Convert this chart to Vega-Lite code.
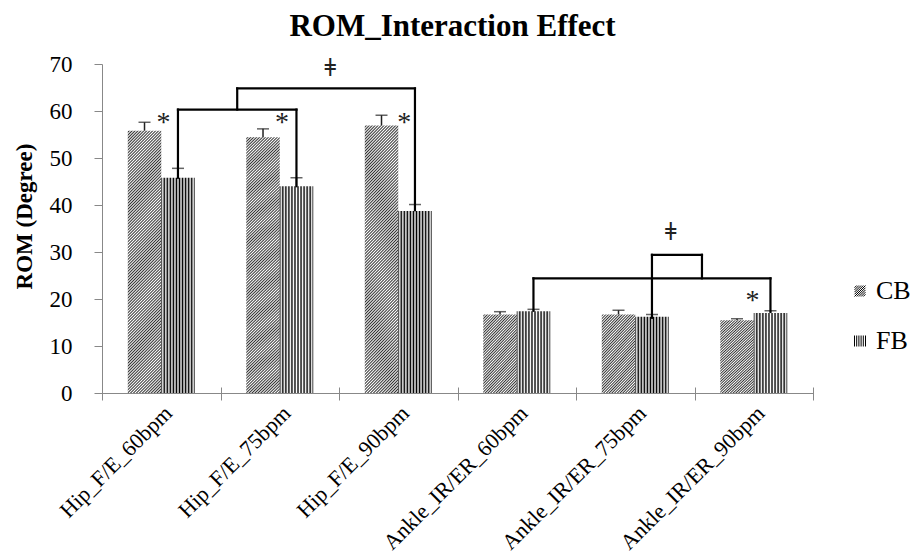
{
  "$schema": "https://vega.github.io/schema/vega-lite/v6.json",
  "width": 711,
  "height": 329,
  "autosize": "none",
  "padding": {"left": 102, "top": 64, "right": 98, "bottom": 165},
  "background": "white",
  "config": {"view": {"stroke": null}},
  "title": {"text": "ROM_Interaction Effect", "font": "Liberation Serif", "fontSize": 31, "fontWeight": "bold", "color": "black", "anchor": "middle", "offset": 10, "dx": -5},
  "datasets": {
    "rom": [
      {"category": "Hip_F/E_60bpm", "series": "CB", "mean": 55.8, "upper": 57.6},
      {"category": "Hip_F/E_60bpm", "series": "FB", "mean": 45.8, "upper": 47.8},
      {"category": "Hip_F/E_75bpm", "series": "CB", "mean": 54.4, "upper": 56.2},
      {"category": "Hip_F/E_75bpm", "series": "FB", "mean": 44.0, "upper": 45.8},
      {"category": "Hip_F/E_90bpm", "series": "CB", "mean": 56.9, "upper": 59.1},
      {"category": "Hip_F/E_90bpm", "series": "FB", "mean": 38.7, "upper": 40.1},
      {"category": "Ankle_IR/ER_60bpm", "series": "CB", "mean": 16.7, "upper": 17.3},
      {"category": "Ankle_IR/ER_60bpm", "series": "FB", "mean": 17.4, "upper": 17.8},
      {"category": "Ankle_IR/ER_75bpm", "series": "CB", "mean": 16.7, "upper": 17.6},
      {"category": "Ankle_IR/ER_75bpm", "series": "FB", "mean": 16.2, "upper": 16.7},
      {"category": "Ankle_IR/ER_90bpm", "series": "CB", "mean": 15.5, "upper": 15.8},
      {"category": "Ankle_IR/ER_90bpm", "series": "FB", "mean": 17.0, "upper": 17.5}
    ],
    "brackets": [
      {"x_at": 0.641, "x_to": 0.641, "y_at": 45.8, "y_to": 60.3},
      {"x_at": 0.641, "x_to": 1.641, "y_at": 60.3, "y_to": 60.3},
      {"x_at": 1.641, "x_to": 1.641, "y_at": 44.0, "y_to": 60.3},
      {"x_at": 1.141, "x_to": 1.141, "y_at": 60.3, "y_to": 64.8},
      {"x_at": 1.141, "x_to": 2.641, "y_at": 64.8, "y_to": 64.8},
      {"x_at": 2.641, "x_to": 2.641, "y_at": 38.9, "y_to": 64.8},
      {"x_at": 3.641, "x_to": 3.641, "y_at": 17.5, "y_to": 24.4},
      {"x_at": 3.641, "x_to": 5.641, "y_at": 24.4, "y_to": 24.4},
      {"x_at": 5.641, "x_to": 5.641, "y_at": 17.3, "y_to": 24.4},
      {"x_at": 4.641, "x_to": 4.641, "y_at": 16.0, "y_to": 29.4},
      {"x_at": 4.641, "x_to": 5.063, "y_at": 29.4, "y_to": 29.4},
      {"x_at": 5.063, "x_to": 5.063, "y_at": 24.4, "y_to": 29.4}
    ],
    "stars": [
      {"label": "*", "x_at": 0.52, "y_at": 55.7},
      {"label": "*", "x_at": 1.52, "y_at": 55.7},
      {"label": "*", "x_at": 2.55, "y_at": 55.7},
      {"label": "*", "x_at": 5.49, "y_at": 17.9}
    ],
    "interaction": [
      {"label": "ǂ", "x_at": 1.927, "y_at": 66.4},
      {"label": "ǂ", "x_at": 4.8, "y_at": 31.5}
    ]
  },
  "layer": [
    {
      "data": {"name": "rom"},
      "encoding": {
        "x": {
          "field": "category", "type": "nominal", "sort": null,
          "scale": {"paddingInner": 0.435, "paddingOuter": 0.2175},
          "axis": {"title": null, "labelAngle": -45, "labelFont": "Liberation Serif", "labelFontSize": 22, "labelColor": "black", "labelPadding": 9, "labelLimit": 400, "ticks": false, "tickSize": 0, "domainColor": "#888", "grid": false}
        },
        "xOffset": {"field": "series", "type": "nominal", "scale": {"paddingInner": 0, "paddingOuter": 0}},
        "y": {
          "field": "mean", "type": "quantitative",
          "scale": {"domain": [0, 70], "nice": false},
          "axis": {"values": [0, 10, 20, 30, 40, 50, 60, 70], "title": "ROM (Degree)", "titleFont": "Liberation Serif", "titleFontSize": 23, "titleFontWeight": "bold", "titleColor": "black", "titleX": -66, "titleY": 152, "labelFont": "Liberation Serif", "labelFontSize": 23, "labelColor": "black", "labelPadding": 22, "tickSize": 8, "tickColor": "#888", "domainColor": "#888", "grid": false}
        }
      },
      "layer": [
        {
          "mark": {"type": "bar", "stroke": null},
          "encoding": {
            "fill": {
              "condition": [
                {"test": "datum.series === 'FB'", "value": {"gradient": "linear", "x1": 0, "y1": 0, "x2": 1, "y2": 0, "stops": [
                  {"offset": 0, "color": "#000"}, {"offset": 0.04545, "color": "#fff"}, {"offset": 0.09091, "color": "#000"}, {"offset": 0.13636, "color": "#fff"},
                  {"offset": 0.18182, "color": "#000"}, {"offset": 0.22727, "color": "#fff"}, {"offset": 0.27273, "color": "#000"}, {"offset": 0.31818, "color": "#fff"},
                  {"offset": 0.36364, "color": "#000"}, {"offset": 0.40909, "color": "#fff"}, {"offset": 0.45455, "color": "#000"}, {"offset": 0.5, "color": "#fff"},
                  {"offset": 0.54545, "color": "#000"}, {"offset": 0.59091, "color": "#fff"}, {"offset": 0.63636, "color": "#000"}, {"offset": 0.68182, "color": "#fff"},
                  {"offset": 0.72727, "color": "#000"}, {"offset": 0.77273, "color": "#fff"}, {"offset": 0.81818, "color": "#000"}, {"offset": 0.86364, "color": "#fff"},
                  {"offset": 0.90909, "color": "#000"}, {"offset": 0.95455, "color": "#fff"}, {"offset": 1, "color": "#000"}
                ]}},
                {"test": "indexof(datum.category, 'Hip') === 0", "value": {"gradient": "linear", "x1": 0, "y1": 0, "x2": 0.1428, "y2": 1.111, "stops": [
                  {"offset": 0, "color": "#fff"}, {"offset": 0.005, "color": "#333"}, {"offset": 0.01, "color": "#fff"}, {"offset": 0.015, "color": "#333"},
                  {"offset": 0.02, "color": "#fff"}, {"offset": 0.025, "color": "#333"}, {"offset": 0.03, "color": "#fff"}, {"offset": 0.035, "color": "#333"},
                  {"offset": 0.04, "color": "#fff"}, {"offset": 0.045, "color": "#333"}, {"offset": 0.05, "color": "#fff"}, {"offset": 0.055, "color": "#333"},
                  {"offset": 0.06, "color": "#fff"}, {"offset": 0.065, "color": "#333"}, {"offset": 0.07, "color": "#fff"}, {"offset": 0.075, "color": "#333"},
                  {"offset": 0.08, "color": "#fff"}, {"offset": 0.085, "color": "#333"}, {"offset": 0.09, "color": "#fff"}, {"offset": 0.095, "color": "#333"},
                  {"offset": 0.1, "color": "#fff"}, {"offset": 0.105, "color": "#333"}, {"offset": 0.11, "color": "#fff"}, {"offset": 0.115, "color": "#333"},
                  {"offset": 0.12, "color": "#fff"}, {"offset": 0.125, "color": "#333"}, {"offset": 0.13, "color": "#fff"}, {"offset": 0.135, "color": "#333"},
                  {"offset": 0.14, "color": "#fff"}, {"offset": 0.145, "color": "#333"}, {"offset": 0.15, "color": "#fff"}, {"offset": 0.155, "color": "#333"},
                  {"offset": 0.16, "color": "#fff"}, {"offset": 0.165, "color": "#333"}, {"offset": 0.17, "color": "#fff"}, {"offset": 0.175, "color": "#333"},
                  {"offset": 0.18, "color": "#fff"}, {"offset": 0.185, "color": "#333"}, {"offset": 0.19, "color": "#fff"}, {"offset": 0.195, "color": "#333"},
                  {"offset": 0.2, "color": "#fff"}, {"offset": 0.205, "color": "#333"}, {"offset": 0.21, "color": "#fff"}, {"offset": 0.215, "color": "#333"},
                  {"offset": 0.22, "color": "#fff"}, {"offset": 0.225, "color": "#333"}, {"offset": 0.23, "color": "#fff"}, {"offset": 0.235, "color": "#333"},
                  {"offset": 0.24, "color": "#fff"}, {"offset": 0.245, "color": "#333"}, {"offset": 0.25, "color": "#fff"}, {"offset": 0.255, "color": "#333"},
                  {"offset": 0.26, "color": "#fff"}, {"offset": 0.265, "color": "#333"}, {"offset": 0.27, "color": "#fff"}, {"offset": 0.275, "color": "#333"},
                  {"offset": 0.28, "color": "#fff"}, {"offset": 0.285, "color": "#333"}, {"offset": 0.29, "color": "#fff"}, {"offset": 0.295, "color": "#333"},
                  {"offset": 0.3, "color": "#fff"}, {"offset": 0.305, "color": "#333"}, {"offset": 0.31, "color": "#fff"}, {"offset": 0.315, "color": "#333"},
                  {"offset": 0.32, "color": "#fff"}, {"offset": 0.325, "color": "#333"}, {"offset": 0.33, "color": "#fff"}, {"offset": 0.335, "color": "#333"},
                  {"offset": 0.34, "color": "#fff"}, {"offset": 0.345, "color": "#333"}, {"offset": 0.35, "color": "#fff"}, {"offset": 0.355, "color": "#333"},
                  {"offset": 0.36, "color": "#fff"}, {"offset": 0.365, "color": "#333"}, {"offset": 0.37, "color": "#fff"}, {"offset": 0.375, "color": "#333"},
                  {"offset": 0.38, "color": "#fff"}, {"offset": 0.385, "color": "#333"}, {"offset": 0.39, "color": "#fff"}, {"offset": 0.395, "color": "#333"},
                  {"offset": 0.4, "color": "#fff"}, {"offset": 0.405, "color": "#333"}, {"offset": 0.41, "color": "#fff"}, {"offset": 0.415, "color": "#333"},
                  {"offset": 0.42, "color": "#fff"}, {"offset": 0.425, "color": "#333"}, {"offset": 0.43, "color": "#fff"}, {"offset": 0.435, "color": "#333"},
                  {"offset": 0.44, "color": "#fff"}, {"offset": 0.445, "color": "#333"}, {"offset": 0.45, "color": "#fff"}, {"offset": 0.455, "color": "#333"},
                  {"offset": 0.46, "color": "#fff"}, {"offset": 0.465, "color": "#333"}, {"offset": 0.47, "color": "#fff"}, {"offset": 0.475, "color": "#333"},
                  {"offset": 0.48, "color": "#fff"}, {"offset": 0.485, "color": "#333"}, {"offset": 0.49, "color": "#fff"}, {"offset": 0.495, "color": "#333"},
                  {"offset": 0.5, "color": "#fff"}, {"offset": 0.505, "color": "#333"}, {"offset": 0.51, "color": "#fff"}, {"offset": 0.515, "color": "#333"},
                  {"offset": 0.52, "color": "#fff"}, {"offset": 0.525, "color": "#333"}, {"offset": 0.53, "color": "#fff"}, {"offset": 0.535, "color": "#333"},
                  {"offset": 0.54, "color": "#fff"}, {"offset": 0.545, "color": "#333"}, {"offset": 0.55, "color": "#fff"}, {"offset": 0.555, "color": "#333"},
                  {"offset": 0.56, "color": "#fff"}, {"offset": 0.565, "color": "#333"}, {"offset": 0.57, "color": "#fff"}, {"offset": 0.575, "color": "#333"},
                  {"offset": 0.58, "color": "#fff"}, {"offset": 0.585, "color": "#333"}, {"offset": 0.59, "color": "#fff"}, {"offset": 0.595, "color": "#333"},
                  {"offset": 0.6, "color": "#fff"}, {"offset": 0.605, "color": "#333"}, {"offset": 0.61, "color": "#fff"}, {"offset": 0.615, "color": "#333"},
                  {"offset": 0.62, "color": "#fff"}, {"offset": 0.625, "color": "#333"}, {"offset": 0.63, "color": "#fff"}, {"offset": 0.635, "color": "#333"},
                  {"offset": 0.64, "color": "#fff"}, {"offset": 0.645, "color": "#333"}, {"offset": 0.65, "color": "#fff"}, {"offset": 0.655, "color": "#333"},
                  {"offset": 0.66, "color": "#fff"}, {"offset": 0.665, "color": "#333"}, {"offset": 0.67, "color": "#fff"}, {"offset": 0.675, "color": "#333"},
                  {"offset": 0.68, "color": "#fff"}, {"offset": 0.685, "color": "#333"}, {"offset": 0.69, "color": "#fff"}, {"offset": 0.695, "color": "#333"},
                  {"offset": 0.7, "color": "#fff"}, {"offset": 0.705, "color": "#333"}, {"offset": 0.71, "color": "#fff"}, {"offset": 0.715, "color": "#333"},
                  {"offset": 0.72, "color": "#fff"}, {"offset": 0.725, "color": "#333"}, {"offset": 0.73, "color": "#fff"}, {"offset": 0.735, "color": "#333"},
                  {"offset": 0.74, "color": "#fff"}, {"offset": 0.745, "color": "#333"}, {"offset": 0.75, "color": "#fff"}, {"offset": 0.755, "color": "#333"},
                  {"offset": 0.76, "color": "#fff"}, {"offset": 0.765, "color": "#333"}, {"offset": 0.77, "color": "#fff"}, {"offset": 0.775, "color": "#333"},
                  {"offset": 0.78, "color": "#fff"}, {"offset": 0.785, "color": "#333"}, {"offset": 0.79, "color": "#fff"}, {"offset": 0.795, "color": "#333"},
                  {"offset": 0.8, "color": "#fff"}, {"offset": 0.805, "color": "#333"}, {"offset": 0.81, "color": "#fff"}, {"offset": 0.815, "color": "#333"},
                  {"offset": 0.82, "color": "#fff"}, {"offset": 0.825, "color": "#333"}, {"offset": 0.83, "color": "#fff"}, {"offset": 0.835, "color": "#333"},
                  {"offset": 0.84, "color": "#fff"}, {"offset": 0.845, "color": "#333"}, {"offset": 0.85, "color": "#fff"}, {"offset": 0.855, "color": "#333"},
                  {"offset": 0.86, "color": "#fff"}, {"offset": 0.865, "color": "#333"}, {"offset": 0.87, "color": "#fff"}, {"offset": 0.875, "color": "#333"},
                  {"offset": 0.88, "color": "#fff"}, {"offset": 0.885, "color": "#333"}, {"offset": 0.89, "color": "#fff"}, {"offset": 0.895, "color": "#333"},
                  {"offset": 0.9, "color": "#fff"}, {"offset": 0.905, "color": "#333"}, {"offset": 0.91, "color": "#fff"}, {"offset": 0.915, "color": "#333"},
                  {"offset": 0.92, "color": "#fff"}, {"offset": 0.925, "color": "#333"}, {"offset": 0.93, "color": "#fff"}, {"offset": 0.935, "color": "#333"},
                  {"offset": 0.94, "color": "#fff"}, {"offset": 0.945, "color": "#333"}, {"offset": 0.95, "color": "#fff"}, {"offset": 0.955, "color": "#333"},
                  {"offset": 0.96, "color": "#fff"}, {"offset": 0.965, "color": "#333"}, {"offset": 0.97, "color": "#fff"}, {"offset": 0.975, "color": "#333"},
                  {"offset": 0.98, "color": "#fff"}, {"offset": 0.985, "color": "#333"}, {"offset": 0.99, "color": "#fff"}, {"offset": 0.995, "color": "#333"},
                  {"offset": 1, "color": "#fff"}
                ]}}
              ],
              "value": {"gradient": "linear", "x1": 0, "y1": 0, "x2": 0.529, "y2": 1.206, "stops": [
                {"offset": 0, "color": "#fff"}, {"offset": 0.0125, "color": "#333"}, {"offset": 0.025, "color": "#fff"}, {"offset": 0.0375, "color": "#333"},
                {"offset": 0.05, "color": "#fff"}, {"offset": 0.0625, "color": "#333"}, {"offset": 0.075, "color": "#fff"}, {"offset": 0.0875, "color": "#333"},
                {"offset": 0.1, "color": "#fff"}, {"offset": 0.1125, "color": "#333"}, {"offset": 0.125, "color": "#fff"}, {"offset": 0.1375, "color": "#333"},
                {"offset": 0.15, "color": "#fff"}, {"offset": 0.1625, "color": "#333"}, {"offset": 0.175, "color": "#fff"}, {"offset": 0.1875, "color": "#333"},
                {"offset": 0.2, "color": "#fff"}, {"offset": 0.2125, "color": "#333"}, {"offset": 0.225, "color": "#fff"}, {"offset": 0.2375, "color": "#333"},
                {"offset": 0.25, "color": "#fff"}, {"offset": 0.2625, "color": "#333"}, {"offset": 0.275, "color": "#fff"}, {"offset": 0.2875, "color": "#333"},
                {"offset": 0.3, "color": "#fff"}, {"offset": 0.3125, "color": "#333"}, {"offset": 0.325, "color": "#fff"}, {"offset": 0.3375, "color": "#333"},
                {"offset": 0.35, "color": "#fff"}, {"offset": 0.3625, "color": "#333"}, {"offset": 0.375, "color": "#fff"}, {"offset": 0.3875, "color": "#333"},
                {"offset": 0.4, "color": "#fff"}, {"offset": 0.4125, "color": "#333"}, {"offset": 0.425, "color": "#fff"}, {"offset": 0.4375, "color": "#333"},
                {"offset": 0.45, "color": "#fff"}, {"offset": 0.4625, "color": "#333"}, {"offset": 0.475, "color": "#fff"}, {"offset": 0.4875, "color": "#333"},
                {"offset": 0.5, "color": "#fff"}, {"offset": 0.5125, "color": "#333"}, {"offset": 0.525, "color": "#fff"}, {"offset": 0.5375, "color": "#333"},
                {"offset": 0.55, "color": "#fff"}, {"offset": 0.5625, "color": "#333"}, {"offset": 0.575, "color": "#fff"}, {"offset": 0.5875, "color": "#333"},
                {"offset": 0.6, "color": "#fff"}, {"offset": 0.6125, "color": "#333"}, {"offset": 0.625, "color": "#fff"}, {"offset": 0.6375, "color": "#333"},
                {"offset": 0.65, "color": "#fff"}, {"offset": 0.6625, "color": "#333"}, {"offset": 0.675, "color": "#fff"}, {"offset": 0.6875, "color": "#333"},
                {"offset": 0.7, "color": "#fff"}, {"offset": 0.7125, "color": "#333"}, {"offset": 0.725, "color": "#fff"}, {"offset": 0.7375, "color": "#333"},
                {"offset": 0.75, "color": "#fff"}, {"offset": 0.7625, "color": "#333"}, {"offset": 0.775, "color": "#fff"}, {"offset": 0.7875, "color": "#333"},
                {"offset": 0.8, "color": "#fff"}, {"offset": 0.8125, "color": "#333"}, {"offset": 0.825, "color": "#fff"}, {"offset": 0.8375, "color": "#333"},
                {"offset": 0.85, "color": "#fff"}, {"offset": 0.8625, "color": "#333"}, {"offset": 0.875, "color": "#fff"}, {"offset": 0.8875, "color": "#333"},
                {"offset": 0.9, "color": "#fff"}, {"offset": 0.9125, "color": "#333"}, {"offset": 0.925, "color": "#fff"}, {"offset": 0.9375, "color": "#333"},
                {"offset": 0.95, "color": "#fff"}, {"offset": 0.9625, "color": "#333"}, {"offset": 0.975, "color": "#fff"}, {"offset": 0.9875, "color": "#333"},
                {"offset": 1, "color": "#fff"}
              ]}
            }
          }
        },
        {
          "mark": {"type": "rule", "color": "#222", "strokeWidth": 1.5},
          "encoding": {"y2": {"field": "upper"}}
        },
        {
          "mark": {"type": "tick", "color": "#222", "size": 12, "thickness": 1.5},
          "encoding": {"y": {"field": "upper", "type": "quantitative"}}
        },
        {
          "mark": {"type": "point", "opacity": 0, "color": "black"},
          "encoding": {
            "shape": {
              "field": "series", "type": "nominal",
              "scale": {"domain": ["CB", "FB"], "range": [
                "M-1,-0.6L-0.6,-1M-1,-0.2L-0.2,-1M-1,0.2L0.2,-1M-1,0.6L0.6,-1M-1,1L1,-1M-0.6,1L1,-0.6M-0.2,1L1,-0.2M0.2,1L1,0.2M0.6,1L1,0.6",
                "M-1,-1L-1,1M-0.6,-1L-0.6,1M-0.2,-1L-0.2,1M0.2,-1L0.2,1M0.6,-1L0.6,1M1,-1L1,1"
              ]},
              "legend": {"title": null, "orient": "none", "legendX": 745, "legendY": 214, "labelFont": "Liberation Serif", "labelFontSize": 26, "labelColor": "black", "labelOffset": 3, "symbolSize": 121, "symbolStrokeColor": "black", "symbolStrokeWidth": 1, "symbolOpacity": 1, "symbolFillColor": "transparent", "rowPadding": 24}
            }
          }
        }
      ]
    },
    {
      "encoding": {
        "x": {"field": "x_at", "type": "quantitative", "scale": {"domain": [0, 6], "nice": false, "zero": false},
              "axis": {"orient": "bottom", "values": [0, 1, 2, 3, 4, 5, 6], "offset": -6, "tickSize": 13, "tickColor": "#888", "domain": false, "labels": false, "title": null, "grid": false}},
        "y": {"field": "y_at", "type": "quantitative", "scale": {"domain": [0, 70], "nice": false}, "title": "ROM (Degree)"}
      },
      "layer": [
        {
          "data": {"name": "brackets"},
          "mark": {"type": "rule", "color": "black", "strokeWidth": 2.2, "strokeCap": "square"},
          "encoding": {
            "x2": {"field": "x_to"},
            "y2": {"field": "y_to"}
          }
        },
        {
          "data": {"name": "stars"},
          "mark": {"type": "text", "font": "Liberation Serif", "fontSize": 28, "baseline": "alphabetic", "align": "center", "color": "#222"},
          "encoding": {"text": {"field": "label"}}
        },
        {
          "data": {"name": "interaction"},
          "mark": {"type": "text", "font": "DejaVu Serif", "fontSize": 25, "baseline": "bottom", "align": "center", "color": "#222"},
          "encoding": {"text": {"field": "label"}}
        }
      ]
    }
  ],
  "resolve": {"scale": {"x": "independent"}}
}
